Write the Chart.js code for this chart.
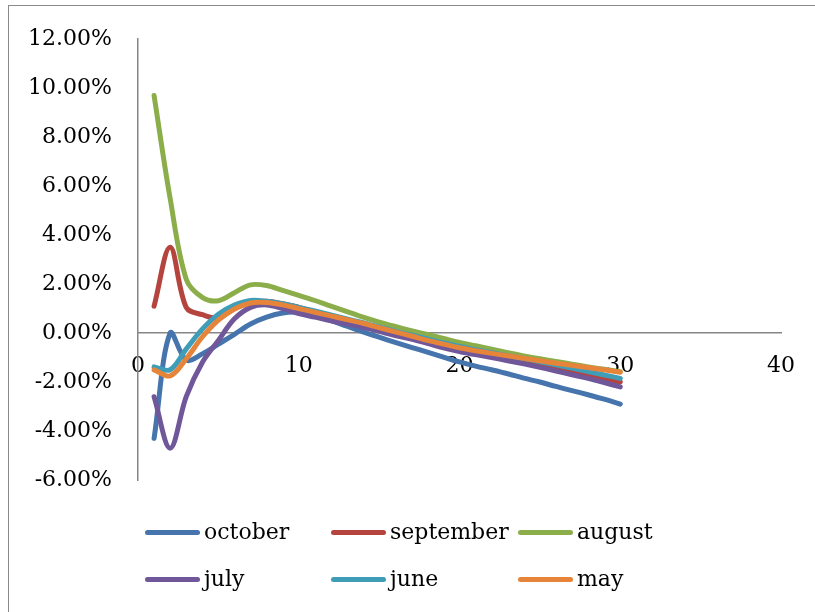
<!DOCTYPE html>
<html>
<head>
<meta charset="utf-8">
<script src="https://cdn.jsdelivr.net/npm/chart.js@4"></script>
<style>
  body { margin: 0; background: #fff; overflow: hidden; }
  #wrap { position: relative; width: 815px; height: 612px; overflow: hidden; }
  #frame { position: absolute; left: 8px; top: 5px; width: 807px; height: 607px; border-left: 1.5px solid #8a8a8a; border-top: 1.5px solid #8a8a8a; }
  #chart { position: absolute; left: 0; top: 0; }
  .leg { position: absolute; font-family: "DejaVu Serif", serif; font-size: 22px; color: #000; line-height: 26px; white-space: nowrap; }
  .leg span.ln { position: absolute; left: -59px; top: 11px; width: 55px; height: 5px; border-radius: 3px; }
</style>
</head>
<body>
<div id="wrap">
  <div id="frame"></div>
  <canvas id="chart" width="815" height="612"></canvas>
  <div id="legend"></div>
</div>
<script>
const days = [1, 2, 3, 4, 5, 6, 7, 8, 9, 10, 11, 12, 13, 14, 15, 16, 17, 18, 19, 20, 21, 22, 23, 24, 25, 26, 27, 28, 29, 30];

// values in percent
const october = [-4.3, 0.0, -1.1, -0.85, -0.45, -0.05, 0.37, 0.65, 0.82, 0.85, 0.72, 0.52, 0.28, 0.05, -0.17, -0.38, -0.58, -0.78, -0.98, -1.18, -1.35, -1.5, -1.66, -1.84, -2.0, -2.18, -2.35, -2.52, -2.7, -2.9];
const september = [1.1, 3.5, 1.05, 0.75, 0.62, 1.0, 1.25, 1.3, 1.2, 1.05, 0.88, 0.7, 0.52, 0.35, 0.15, -0.03, -0.2, -0.38, -0.55, -0.7, -0.83, -0.95, -1.07, -1.2, -1.33, -1.47, -1.6, -1.73, -1.87, -2.0];
const august = [9.7, 5.5, 2.2, 1.46, 1.32, 1.65, 1.97, 1.94, 1.74, 1.54, 1.33, 1.1, 0.88, 0.65, 0.45, 0.27, 0.1, -0.06, -0.22, -0.38, -0.52, -0.66, -0.8, -0.93, -1.05, -1.16, -1.27, -1.38, -1.48, -1.58];
const july = [-2.6, -4.7, -2.6, -1.2, -0.3, 0.58, 1.05, 1.15, 1.0, 0.8, 0.65, 0.5, 0.37, 0.24, 0.07, -0.1, -0.25, -0.42, -0.6, -0.75, -0.88, -1.0, -1.13, -1.26, -1.4, -1.55, -1.7, -1.85, -2.02, -2.2];
const june = [-1.38, -1.5, -0.65, 0.16, 0.77, 1.14, 1.33, 1.3, 1.2, 1.05, 0.9, 0.74, 0.58, 0.42, 0.25, 0.08, -0.08, -0.24, -0.4, -0.55, -0.68, -0.8, -0.92, -1.04, -1.17, -1.3, -1.43, -1.57, -1.71, -1.85];
const may = [-1.5, -1.75, -1.05, -0.16, 0.53, 0.98, 1.23, 1.25, 1.15, 1.0, 0.85, 0.7, 0.55, 0.4, 0.22, 0.05, -0.12, -0.3, -0.45, -0.6, -0.72, -0.83, -0.93, -1.03, -1.13, -1.23, -1.32, -1.41, -1.5, -1.6];

const seriesNames = ["october", "september", "august", "july", "june", "may"];
const seriesValues = [october, september, august, july, june, may];
const seriesColors = ["#4674AD", "#B5443F", "#8BAE4B", "#70579A", "#3F9DB8", "#E6843A"];

const yTicks = [-6, -4, -2, 0, 2, 4, 6, 8, 10, 12];
const xTicks = [0, 10, 20, 30, 40];

const font = { family: "DejaVu Serif", size: 22 };

const datasets = seriesNames.map((name, i) => ({
  label: name,
  data: days.map((d, j) => ({ x: d, y: seriesValues[i][j] })),
  borderColor: seriesColors[i],
  backgroundColor: seriesColors[i],
  borderWidth: 5,
  pointRadius: 0,
  tension: 0.35,
  borderCapStyle: "round",
  borderJoinStyle: "round",
  order: seriesNames.length - i, // later series on top, like the original
}));

new Chart(document.getElementById("chart"), {
  type: "line",
  data: { datasets },
  options: {
    responsive: false,
    animation: false,
    layout: { padding: { top: 34, bottom: 132, right: 32, left: 0 } },
    plugins: { legend: { display: false }, tooltip: { enabled: false } },
    scales: {
      x: {
        type: "linear",
        position: { y: 0 },
        min: 0,
        max: 40,
        afterBuildTicks: (s) => { s.ticks = xTicks.map((v) => ({ value: v })); },
        grid: { display: false, drawTicks: false },
        border: { display: true, color: "#868686", width: 1.5 },
        ticks: { font, color: "#000", padding: 20, maxRotation: 0 },
      },
      y: {
        min: -6,
        max: 12,
        afterBuildTicks: (s) => { s.ticks = yTicks.map((v) => ({ value: v })); },
        afterFit: (s) => { s.width = 138; },
        grid: { display: false, drawTicks: false },
        border: { display: true, color: "#868686", width: 1.5 },
        ticks: { font, color: "#000", padding: 26, callback: (v) => v.toFixed(2) + "%" },
      },
    },
  },
});

// legend laid out in a 3-column grid like the original
const legCols = [204, 390, 577];
const legRows = [519, 566];
const legend = document.getElementById("legend");
seriesNames.forEach((name, i) => {
  const el = document.createElement("div");
  el.className = "leg";
  el.style.left = legCols[i % 3] + "px";
  el.style.top = legRows[Math.floor(i / 3)] + "px";
  el.innerHTML = '<span class="ln" style="background:' + seriesColors[i] + '"></span>' + name;
  legend.appendChild(el);
});
</script>
</body>
</html>
